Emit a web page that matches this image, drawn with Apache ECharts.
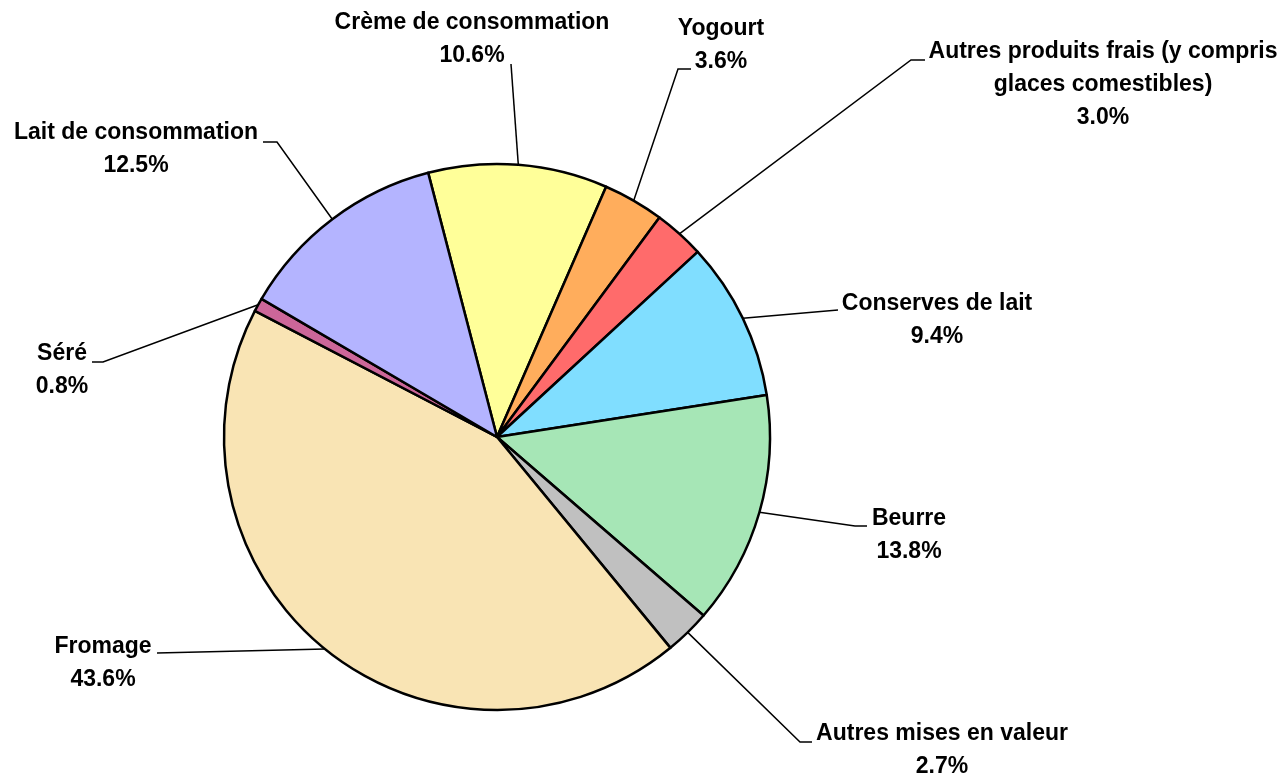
<!DOCTYPE html>
<html>
<head>
<meta charset="utf-8">
<script src="https://cdn.jsdelivr.net/npm/echarts@6/dist/echarts.min.js"></script>
<style>
  html, body { margin: 0; padding: 0; background: #fff; }
  #chart { width: 1280px; height: 778px; }
</style>
</head>
<body>
<div id="chart"></div>
<script>
// categories in clockwise order, starting just left of 12 o'clock
const categories = [
  'Crème de consommation',
  'Yogourt',
  'Autres produits frais (y compris\nglaces comestibles)',
  'Conserves de lait',
  'Beurre',
  'Autres mises en valeur',
  'Fromage',
  'Séré',
  'Lait de consommation'
]
const shares = [10.6, 3.6, 3.0, 9.4, 13.8, 2.7, 43.6, 0.8, 12.5]
const colors = ['#FFFF99', '#FFAD5C', '#FF6B6B', '#80DEFF', '#A6E6B6', '#C0C0C0', '#F9E4B4', '#CC6699', '#B4B4FF']

// where each label block sits, and the bend / stub of its leader line
const labelSpots = [
  { x: 472, y: 39, bend: [511, 64], end: [511, 64] },
  { x: 721, y: 45, bend: [678, 69], end: [691, 69] },
  { x: 1103, y: 85, bend: [911, 60], end: [925, 60] },
  { x: 937, y: 320, bend: [838, 310], end: [838, 310] },
  { x: 909, y: 535, bend: [855, 526], end: [867, 526] },
  { x: 942, y: 750, bend: [800, 742], end: [812, 742] },
  { x: 103, y: 663, bend: [157, 653], end: [157, 653] },
  { x: 62, y: 370, bend: [103, 362], end: [92, 362] },
  { x: 136, y: 149, bend: [277, 142], end: [263, 142] }
]

let myChart = echarts.init(document.getElementById('chart'))
myChart.setOption({
  backgroundColor: '#fff',
  animation: false,
  series: [{
    type: 'pie',
    center: [497, 437],
    radius: 273,
    startAngle: 104.6,
    clockwise: true,
    avoidLabelOverlap: false,
    data: categories.map((name, i) => ({
      name: name,
      value: shares[i],
      itemStyle: { color: colors[i] }
    })),
    itemStyle: {
      borderColor: '#000',
      borderWidth: 2.5
    },
    emphasis: { disabled: true },
    label: {
      show: true,
      position: 'outside',
      formatter: p => p.name + '\n' + p.value.toFixed(1) + '%',
      fontFamily: 'Liberation Sans, Arial, sans-serif',
      fontWeight: 'bold',
      fontSize: 23,
      lineHeight: 33,
      color: '#000',
      align: 'center'
    },
    labelLine: {
      show: true,
      lineStyle: { color: '#000', width: 1.5 }
    },
    labelLayout: function (params) {
      let s = labelSpots[params.dataIndex]
      let edge = params.labelLinePoints ? params.labelLinePoints[0] : s.bend
      return {
        x: s.x,
        y: s.y,
        align: 'center',
        verticalAlign: 'middle',
        labelLinePoints: [edge, s.bend, s.end]
      }
    }
  }]
})
</script>
</body>
</html>
